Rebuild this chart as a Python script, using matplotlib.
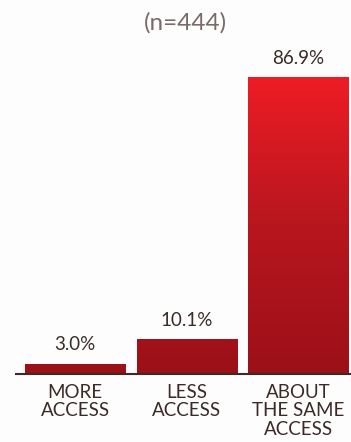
import numpy as np
import matplotlib

matplotlib.use("Agg")
import matplotlib.pyplot as plt
from matplotlib.colors import LinearSegmentedColormap

categories = ["MORE\nACCESS", "LESS\nACCESS", "ABOUT\nTHE SAME\nACCESS"]
values = [3.0, 10.1, 86.9]
value_labels = ["3.0%", "10.1%", "86.9%"]
subtitle = "(n=444)"

plt.rcParams["font.family"] = ["Lato", "DejaVu Sans"]

W, H = 351, 442
fig = plt.figure(figsize=(W / 100, H / 100), dpi=100)
fig.patch.set_facecolor("#fdfdfd")

# axes: left 16px, bottom axis line at y=374px, top at 40px
ax = fig.add_axes([16 / W, 68 / H, 1 - 16 / W, (374 - 40) / H])
ax.set_facecolor("none")

xs = np.arange(len(values))
bars = ax.bar(xs, values, width=0.9, color="none", edgecolor="none")

cmap = LinearSegmentedColormap.from_list("red", ["#9c1018", "#b8161e", "#ee1c25"])
grad = np.linspace(0, 1, 256).reshape(-1, 1)
for bar in bars:
    im = ax.imshow(grad, cmap=cmap, origin="lower", aspect="auto",
                   extent=[-0.53, 2.47, 0, max(values)], zorder=2)
    im.set_clip_path(bar)
ax.set_xlim(-0.53, 2.47)
ax.set_ylim(0, 334 / 3.42)

text_col = "#3b2a27"
for x, v, lab in zip(xs, values, value_labels):
    ax.text(x, v + 3.0, lab, ha="center", va="bottom", fontsize=13.5, color=text_col)

for s in ["top", "right", "left"]:
    ax.spines[s].set_visible(False)
ax.spines["bottom"].set_color(text_col)
ax.spines["bottom"].set_linewidth(1.5)
ax.set_yticks([])
ax.set_xticks(xs)
ax.set_xticklabels(categories, fontsize=13.5, color=text_col, linespacing=1.12)
ax.tick_params(axis="x", length=0, pad=7)

fig.text(185 / W, 1 - 23 / H, subtitle, ha="center", va="center",
         fontsize=17.5, color="#7b6b68")

fig.savefig("out.png", dpi=100, facecolor=fig.get_facecolor())
